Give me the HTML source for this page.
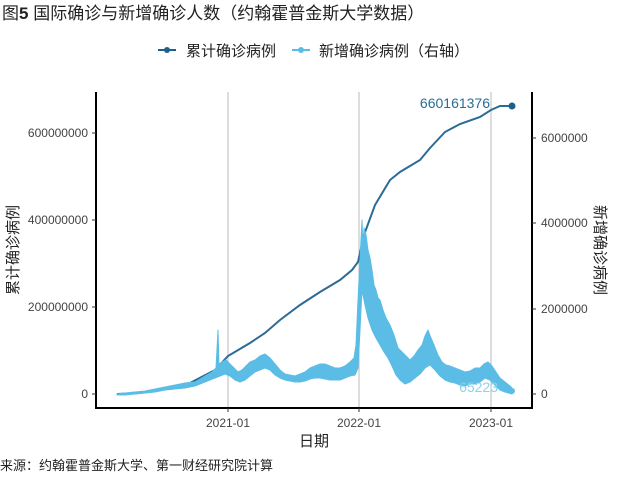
<!DOCTYPE html>
<html><head><meta charset="utf-8"><style>
body{margin:0;background:#fff;}
svg text{font-family:"Liberation Sans","Noto Sans CJK SC",sans-serif;}
</style></head><body>
<svg width="640" height="480" xmlns="http://www.w3.org/2000/svg">
<rect width="640" height="480" fill="#fff"/>
<text x="2" y="19" font-size="17" fill="#222">图<tspan font-weight="bold">5</tspan> 国际确诊与新增确诊人数（约翰霍普金斯大学数据）</text>
<line x1="158" y1="50" x2="176" y2="50" stroke="#1f5f8b" stroke-width="2"/>
<circle cx="167" cy="50" r="3" fill="#1f5f8b"/>
<text x="186" y="56" font-size="15" fill="#222">累计确诊病例</text>
<line x1="292" y1="50" x2="310" y2="50" stroke="#5bbde6" stroke-width="2"/>
<circle cx="301" cy="50" r="3" fill="#5bbde6"/>
<text x="319" y="56" font-size="15" fill="#222">新增确诊病例（右轴）</text>
<g stroke="#bbb" stroke-width="1">
<line x1="228" y1="92" x2="228" y2="408"/>
<line x1="359" y1="92" x2="359" y2="408"/>
<line x1="491" y1="92" x2="491" y2="408"/>
</g>
<polyline fill="none" stroke="#2b6c96" stroke-width="2" points="117,394 140,393 160,390 190,383 215,370 228,356 250,343 265,333 280,320 300,305 320,292 340,280 352,270 358,262 364,235 375,205 390,180 400,172 420,160 430,148 445,132 460,124 480,117 491,110 500,106 512,106"/>
<polygon fill="#5bbde6" stroke="#5bbde6" stroke-width="1" stroke-linejoin="round" points="117,394 125,393 135,392 145,391 155,389 165,387 175,385 185,383 195,382 205,376 212,372 216,368 218,330 219,366 222,362 226,360 230,364 234,368 238,372 242,370 246,366 250,362 255,360 260,356 265,354 270,358 275,364 280,370 285,374 290,375 295,376 300,374 305,372 310,368 315,366 320,364 325,364 330,366 335,368 340,368 345,366 350,362 354,358 356,345 358,300 360,260 361,240 362,220 363,250 364,228 366,235 368,250 370,258 372,270 374,285 376,290 378,298 380,300 383,310 386,318 390,325 394,335 398,348 402,352 406,356 410,360 414,356 418,350 422,345 425,336 428,330 431,338 434,345 438,355 442,362 446,365 450,366 455,368 460,370 465,372 470,371 475,368 480,368 484,364 488,362 492,366 496,372 500,378 505,382 510,386 512,388 512,394 505,392 500,390 495,385 490,380 485,378 480,382 475,384 470,384 465,386 460,385 455,383 450,382 445,380 440,376 435,370 430,365 425,368 420,374 415,378 410,382 405,384 400,380 396,375 392,366 388,358 384,352 380,345 376,338 372,330 368,318 365,305 362,290 360,330 358,368 355,375 350,376 345,378 340,380 335,380 330,380 325,379 320,378 315,378 310,379 305,381 300,382 295,382 290,381 285,380 280,378 275,375 270,370 265,368 260,370 255,372 250,376 245,380 240,382 235,380 230,376 225,374 220,376 215,378 205,382 195,386 185,388 175,389 165,390 155,392 145,393 135,394 125,395 117,395"/>
<circle cx="512" cy="106" r="3.5" fill="#1f5f8b"/>
<circle cx="512" cy="391" r="3" fill="#5bbde6"/>
<text x="490" y="108" font-size="14" fill="#2b6c96" text-anchor="end">660161376</text>
<text x="498" y="392" font-size="14" fill="#8fd0ee" text-anchor="end">65223</text>
<g stroke="#000" stroke-width="2">
<line x1="96" y1="92" x2="96" y2="409"/>
<line x1="532" y1="92" x2="532" y2="409"/>
<line x1="95" y1="408" x2="533" y2="408"/>
</g>
<g stroke="#333" stroke-width="1">
<line x1="92" y1="394" x2="96" y2="394"/><line x1="92" y1="307" x2="96" y2="307"/><line x1="92" y1="220" x2="96" y2="220"/><line x1="92" y1="133" x2="96" y2="133"/>
<line x1="532" y1="394" x2="536" y2="394"/><line x1="532" y1="309" x2="536" y2="309"/><line x1="532" y1="223" x2="536" y2="223"/><line x1="532" y1="138" x2="536" y2="138"/>
<line x1="228" y1="408" x2="228" y2="412"/><line x1="359" y1="408" x2="359" y2="412"/><line x1="491" y1="408" x2="491" y2="412"/>
</g>
<g font-size="12" fill="#444" text-anchor="end">
<text x="88" y="398">0</text><text x="88" y="311">200000000</text><text x="88" y="224">400000000</text><text x="88" y="137">600000000</text>
</g>
<g font-size="12" fill="#444">
<text x="541" y="398">0</text><text x="541" y="313">2000000</text><text x="541" y="227">4000000</text><text x="541" y="142">6000000</text>
</g>
<g font-size="12" fill="#444" text-anchor="middle">
<text x="228" y="427">2021-01</text><text x="359" y="427">2022-01</text><text x="491" y="427">2023-01</text>
</g>
<text x="314" y="446" font-size="15" fill="#222" text-anchor="middle">日期</text>
<text transform="translate(18,250) rotate(-90)" font-size="15" fill="#222" text-anchor="middle">累计确诊病例</text>
<text transform="translate(595,250) rotate(90)" font-size="15" fill="#222" text-anchor="middle">新增确诊病例</text>
<text x="0" y="470" font-size="13" fill="#222">来源：约翰霍普金斯大学、第一财经研究院计算</text>
</svg>
</body></html>
